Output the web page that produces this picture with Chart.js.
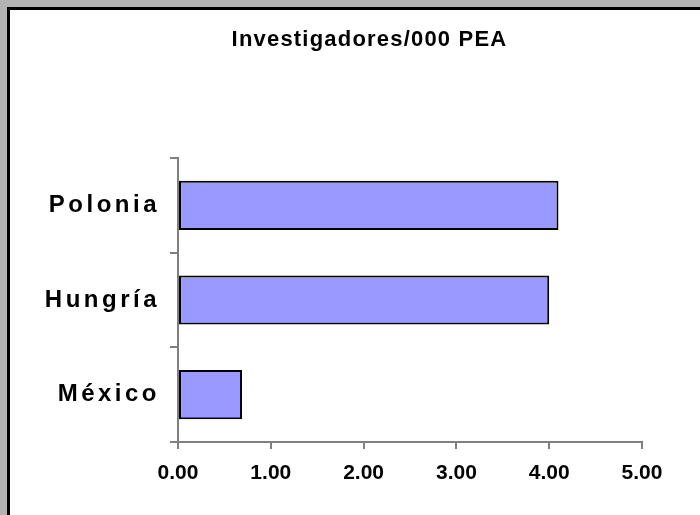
<!DOCTYPE html>
<html><head><meta charset="utf-8">
<script src="https://cdn.jsdelivr.net/npm/chart.js@4"></script>
<style>
html,body{margin:0;padding:0;background:#b3b3b3;width:700px;height:515px;overflow:hidden;}
#wrap{position:absolute;left:7px;top:7px;width:690px;height:505px;background:#fff;border-left:3px solid #000;border-top:3px solid #000;}
canvas{display:block;}
</style></head>
<body>
<div id="wrap"><canvas id="c" width="690" height="505"></canvas></div>
<script>
const categories = ['Polonia', 'Hungría', 'México'];
const values = [4.1, 4.0, 0.69];
const xTicks = [0, 1, 2, 3, 4, 5];
const title = 'Investigadores/000 PEA';

const spacingPlugin = {
  id: 'spacing',
  afterLayout(chart) {
    const s = chart.scales.y;
    if (s && !s._sp) {
      const orig = s.drawLabels.bind(s);
      s.drawLabels = function (ca) { const ctx = this.ctx; ctx.save(); ctx.letterSpacing = '3.5px'; orig(ca); ctx.restore(); };
      s._sp = true;
    }
    const t = chart.titleBlock;
    if (t && !t._sp) {
      const origT = t.draw.bind(t);
      t.draw = function () { const ctx = this.ctx; ctx.save(); ctx.letterSpacing = '1.2px'; ctx.translate(43.5, 0); origT(); ctx.restore(); };
      t._sp = true;
    }
  }
};

new Chart(document.getElementById('c'), {
  type: 'bar',
  data: {
    labels: categories,
    datasets: [{
      data: values,
      backgroundColor: '#9999ff',
      borderColor: '#000',
      borderWidth: 2,
      borderSkipped: false,
      barPercentage: 0.52,
      categoryPercentage: 1
    }]
  },
  plugins: [spacingPlugin],
  options: {
    indexAxis: 'y',
    responsive: false,
    animation: false,
    devicePixelRatio: 1,
    layout: { padding: { left: 0, right: 58, top: 0, bottom: 0 } },
    plugins: {
      legend: { display: false },
      tooltip: { enabled: false },
      title: {
        display: true, text: title, color: '#000',
        font: { family: 'Arial, Liberation Sans', size: 22, weight: 'bold', lineHeight: 1.2 },
        padding: { top: 17, bottom: 104.6 }
      }
    },
    scales: {
      x: {
        min: 0, max: 5,
        afterFit: s => { s.height = 73; },
        afterBuildTicks: s => { s.ticks = xTicks.map(v => ({ value: v })); },
        border: { color: '#808080', width: 2 },
        grid: { drawOnChartArea: false, color: '#808080', lineWidth: 2, tickLength: 7 },
        ticks: { color: '#000', padding: 12, font: { family: 'Arial, Liberation Sans', size: 21, weight: 'bold' },
                 callback: v => Number(v).toFixed(2) }
      },
      y: {
        afterFit: s => { s.width = 168; },
        border: { color: '#808080', width: 2 },
        grid: { drawOnChartArea: false, color: '#808080', lineWidth: 2, tickLength: 8, offset: true },
        ticks: { color: '#000', padding: 10, font: { family: 'Arial, Liberation Sans', size: 24, weight: 'bold' } }
      }
    }
  }
});
</script>
</body></html>
